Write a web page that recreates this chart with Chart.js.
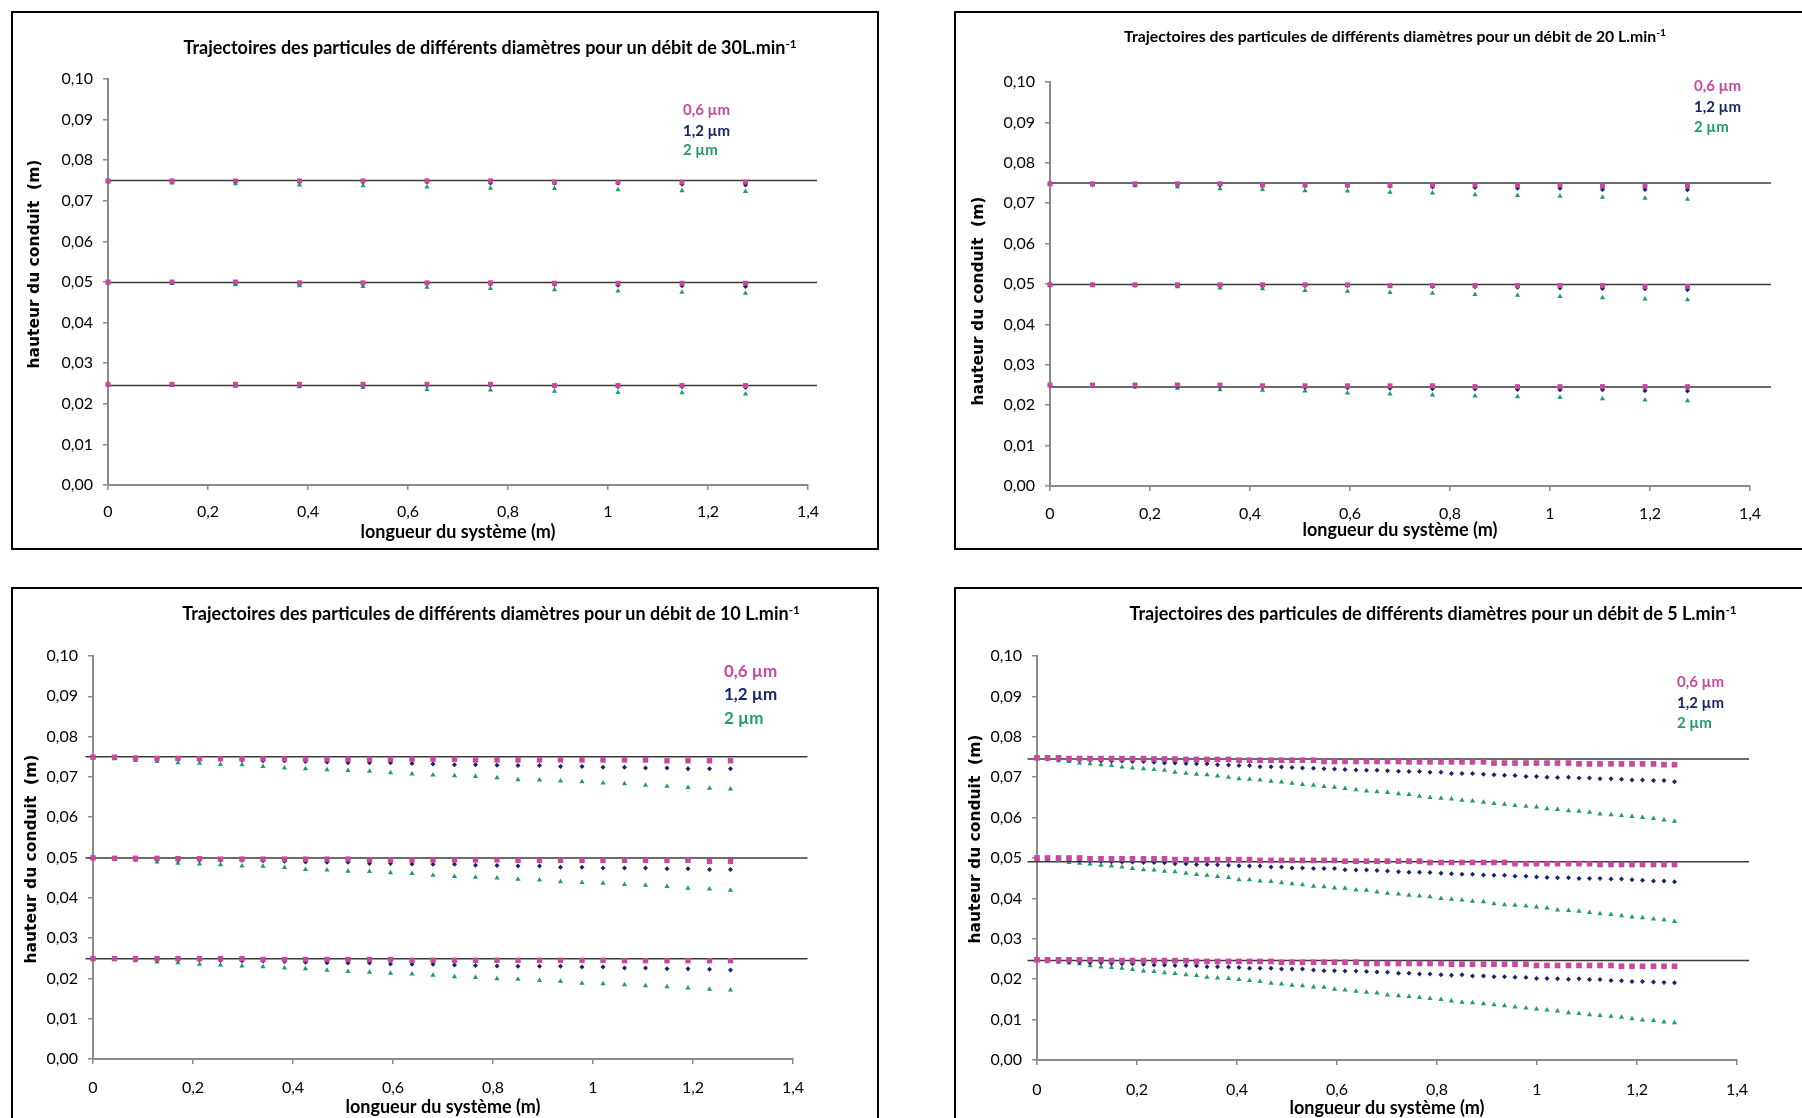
<!DOCTYPE html>
<html lang="fr">
<head>
<meta charset="utf-8">
<title>Trajectoires des particules</title>
<script src="https://cdn.jsdelivr.net/npm/chart.js@4.4.1/dist/chart.umd.min.js"></script>
<style>
  html, body { margin: 0; padding: 0; }
  body { width: 1802px; height: 1118px; overflow: hidden; background: #fff; position: relative; font-family: Lato, "Open Sans", sans-serif; }
  .cadre { position: absolute; width: 868px; height: 539px; border: 2px solid #000; box-sizing: border-box; }
  .cadre canvas { position: absolute; left: 0; top: 0; }
  .titre { position: absolute; font-weight: bold; white-space: nowrap; transform: translate(-50%, -50%); color: #000; }
  .titre sup { font-size: 0.65em; vertical-align: 0.55em; line-height: 0; }
  .axeY { position: absolute; font-family: "DejaVu Sans", sans-serif; font-weight: bold; font-size: 15.5px; white-space: pre;
          transform: translate(-50%, -50%) rotate(-90deg); color: #000; }
  .leg { position: absolute; font-weight: bold; white-space: nowrap; transform: translateY(-50%); line-height: 1; }
  .c06 { color: #c8479f; }
  .c12 { color: #1b2368; }
  .c2 { color: #1e9c6b; }
</style>
</head>
<body>
<div class="cadre" style="left:11px;top:11px"><canvas id="g30" width="864" height="535"></canvas></div>
<div class="cadre" style="left:954px;top:11px"><canvas id="g20" width="864" height="535"></canvas></div>
<div class="cadre" style="left:11px;top:587px"><canvas id="g10" width="864" height="535"></canvas></div>
<div class="cadre" style="left:954px;top:587px"><canvas id="g5" width="864" height="535"></canvas></div>

<div class="titre" style="left:490px;top:47px;font-size:18px">Trajectoires des particules de différents diamètres pour un débit de 30L.min<sup>-1</sup></div>
<div class="titre" style="left:1395px;top:35px;font-size:15.8px">Trajectoires des particules de différents diamètres pour un débit de 20 L.min<sup>-1</sup></div>
<div class="titre" style="left:491px;top:613px;font-size:18px">Trajectoires des particules de différents diamètres pour un débit de 10 L.min<sup>-1</sup></div>
<div class="titre" style="left:1433px;top:613px;font-size:18px">Trajectoires des particules de différents diamètres pour un débit de 5 L.min<sup>-1</sup></div>

<div class="axeY" style="left:34px;top:264px">hauteur du conduit  (m)</div>
<div class="axeY" style="left:978px;top:301px">hauteur du conduit  (m)</div>
<div class="axeY" style="left:31px;top:859px">hauteur du conduit  (m)</div>
<div class="axeY" style="left:975px;top:839px">hauteur du conduit  (m)</div>

<div class="leg c06" style="left:683px;top:109px;font-size:15px">0,6 µm</div>
<div class="leg c12" style="left:683px;top:130px;font-size:15px">1,2 µm</div>
<div class="leg c2" style="left:683px;top:149px;font-size:15px">2 µm</div>

<div class="leg c06" style="left:1694px;top:85px;font-size:15px">0,6 µm</div>
<div class="leg c12" style="left:1694px;top:106px;font-size:15px">1,2 µm</div>
<div class="leg c2" style="left:1694px;top:126px;font-size:15px">2 µm</div>

<div class="leg c06" style="left:724px;top:670px;font-size:17px">0,6 µm</div>
<div class="leg c12" style="left:724px;top:693px;font-size:17px">1,2 µm</div>
<div class="leg c2" style="left:724px;top:717px;font-size:17px">2 µm</div>

<div class="leg c06" style="left:1677px;top:681px;font-size:15px">0,6 µm</div>
<div class="leg c12" style="left:1677px;top:702px;font-size:15px">1,2 µm</div>
<div class="leg c2" style="left:1677px;top:722px;font-size:15px">2 µm</div>

<script>
// ---- débit 30 L/min ----
const x30 = [0, 0.128, 0.255, 0.383, 0.51, 0.638, 0.765, 0.893, 1.02, 1.148, 1.275];
const d30_06 = [
    [0.0749, 0.0749, 0.0749, 0.0749, 0.0749, 0.0749, 0.0749, 0.0746, 0.0746, 0.0746, 0.0746],
    [0.0500, 0.0500, 0.0500, 0.0498, 0.0498, 0.0498, 0.0498, 0.0497, 0.0497, 0.0497, 0.0497],
    [0.0248, 0.0248, 0.0248, 0.0248, 0.0248, 0.0248, 0.0248, 0.0245, 0.0245, 0.0245, 0.0245]
];
const d30_12 = [
    [0.0748, 0.0748, 0.0748, 0.0747, 0.0747, 0.0746, 0.0744, 0.0743, 0.0743, 0.0741, 0.0739],
    [0.0498, 0.0498, 0.0498, 0.0497, 0.0496, 0.0496, 0.0495, 0.0494, 0.0492, 0.0491, 0.0489],
    [0.0247, 0.0247, 0.0247, 0.0246, 0.0246, 0.0245, 0.0245, 0.0243, 0.0242, 0.0242, 0.0240]
];
const d30_2 = [
    [0.0747, 0.0744, 0.0742, 0.0739, 0.0737, 0.0734, 0.0731, 0.0730, 0.0727, 0.0725, 0.0723],
    [0.0498, 0.0496, 0.0493, 0.0491, 0.0489, 0.0487, 0.0484, 0.0481, 0.0478, 0.0475, 0.0472],
    [0.0247, 0.0245, 0.0243, 0.0242, 0.0240, 0.0235, 0.0234, 0.0231, 0.0228, 0.0227, 0.0224]
];
const conduits30 = [0.075, 0.0499, 0.0245];
const bornes30 = [0, 1.418];

// ---- débit 20 L/min ----
const x20 = [0, 0.085, 0.17, 0.255, 0.34, 0.425, 0.51, 0.595, 0.68, 0.765, 0.85, 0.935, 1.02, 1.105, 1.19, 1.275];
const d20_06 = [
    [0.0748, 0.0748, 0.0748, 0.0748, 0.0748, 0.0745, 0.0745, 0.0745, 0.0745, 0.0745, 0.0745, 0.0745, 0.0745, 0.0743, 0.0743, 0.0743],
    [0.0498, 0.0498, 0.0498, 0.0498, 0.0498, 0.0498, 0.0498, 0.0498, 0.0496, 0.0496, 0.0496, 0.0496, 0.0496, 0.0496, 0.0494, 0.0494],
    [0.0250, 0.0250, 0.0250, 0.0250, 0.0250, 0.0248, 0.0248, 0.0248, 0.0248, 0.0248, 0.0246, 0.0246, 0.0246, 0.0246, 0.0246, 0.0246]
];
const d20_12 = [
    [0.0748, 0.0747, 0.0746, 0.0746, 0.0745, 0.0744, 0.0743, 0.0743, 0.0742, 0.0740, 0.0739, 0.0737, 0.0737, 0.0734, 0.0734, 0.0733],
    [0.0498, 0.0498, 0.0497, 0.0497, 0.0497, 0.0496, 0.0496, 0.0496, 0.0495, 0.0494, 0.0493, 0.0492, 0.0490, 0.0489, 0.0488, 0.0486],
    [0.0250, 0.0248, 0.0247, 0.0246, 0.0246, 0.0245, 0.0244, 0.0243, 0.0242, 0.0241, 0.0240, 0.0239, 0.0238, 0.0238, 0.0236, 0.0235]
];
const d20_2 = [
    [0.0748, 0.0745, 0.0743, 0.0740, 0.0736, 0.0734, 0.0731, 0.0730, 0.0727, 0.0725, 0.0721, 0.0719, 0.0717, 0.0715, 0.0712, 0.0710],
    [0.0498, 0.0497, 0.0496, 0.0493, 0.0490, 0.0488, 0.0484, 0.0482, 0.0479, 0.0477, 0.0474, 0.0472, 0.0469, 0.0466, 0.0463, 0.0461],
    [0.0250, 0.0247, 0.0245, 0.0242, 0.0238, 0.0237, 0.0235, 0.0230, 0.0228, 0.0225, 0.0223, 0.0221, 0.0219, 0.0216, 0.0213, 0.0211]
];
const conduits20 = [0.075, 0.0499, 0.0245];
const bornes20 = [0, 1.442];

// ---- débit 10 L/min ----
const x10 = [0, 0.043, 0.085, 0.128, 0.17, 0.213, 0.255, 0.298, 0.34, 0.383, 0.425, 0.468, 0.51, 0.553, 0.595, 0.638,
    0.68, 0.723, 0.765, 0.808, 0.85, 0.893, 0.935, 0.978, 1.02, 1.063, 1.105, 1.148, 1.19, 1.233, 1.275];
const d10_06 = [
    [0.0749, 0.0749, 0.0747, 0.0746, 0.0746, 0.0745, 0.0745, 0.0745, 0.0745, 0.0745, 0.0744, 0.0744, 0.0744, 0.0744, 0.0744, 0.0744,
     0.0744, 0.0744, 0.0742, 0.0742, 0.0742, 0.0742, 0.0742, 0.0742, 0.0742, 0.0742, 0.0742, 0.0740, 0.0740, 0.0740, 0.0740],
    [0.0499, 0.0498, 0.0498, 0.0498, 0.0497, 0.0497, 0.0496, 0.0496, 0.0496, 0.0496, 0.0496, 0.0496, 0.0496, 0.0494, 0.0494, 0.0494,
     0.0494, 0.0494, 0.0494, 0.0494, 0.0493, 0.0493, 0.0493, 0.0493, 0.0493, 0.0493, 0.0493, 0.0493, 0.0493, 0.0490, 0.0490],
    [0.0249, 0.0249, 0.0249, 0.0249, 0.0249, 0.0249, 0.0249, 0.0249, 0.0247, 0.0247, 0.0247, 0.0247, 0.0247, 0.0247, 0.0247, 0.0245,
     0.0245, 0.0245, 0.0245, 0.0245, 0.0245, 0.0245, 0.0245, 0.0245, 0.0245, 0.0244, 0.0244, 0.0244, 0.0244, 0.0244, 0.0244]
];
const d10_12 = [
    [0.0749, 0.0748, 0.0747, 0.0746, 0.0745, 0.0744, 0.0744, 0.0742, 0.0740, 0.0740, 0.0738, 0.0737, 0.0735, 0.0735, 0.0735, 0.0733,
     0.0732, 0.0730, 0.0730, 0.0729, 0.0728, 0.0728, 0.0726, 0.0726, 0.0724, 0.0724, 0.0722, 0.0722, 0.0720, 0.0720, 0.0720],
    [0.0498, 0.0497, 0.0496, 0.0495, 0.0494, 0.0494, 0.0493, 0.0493, 0.0492, 0.0491, 0.0489, 0.0488, 0.0488, 0.0485, 0.0485, 0.0484,
     0.0483, 0.0483, 0.0481, 0.0480, 0.0479, 0.0479, 0.0476, 0.0476, 0.0474, 0.0474, 0.0474, 0.0472, 0.0472, 0.0470, 0.0470],
    [0.0249, 0.0249, 0.0248, 0.0247, 0.0247, 0.0246, 0.0245, 0.0244, 0.0243, 0.0242, 0.0240, 0.0239, 0.0238, 0.0238, 0.0236, 0.0235,
     0.0235, 0.0233, 0.0232, 0.0231, 0.0230, 0.0230, 0.0230, 0.0228, 0.0228, 0.0226, 0.0226, 0.0224, 0.0224, 0.0223, 0.0221]
];
const d10_2 = [
    [0.0749, 0.0745, 0.0741, 0.0738, 0.0735, 0.0734, 0.0731, 0.0730, 0.0726, 0.0722, 0.0720, 0.0718, 0.0716, 0.0714, 0.0710, 0.0707,
     0.0705, 0.0703, 0.0701, 0.0698, 0.0693, 0.0692, 0.0690, 0.0688, 0.0685, 0.0683, 0.0679, 0.0677, 0.0674, 0.0672, 0.0670],
    [0.0498, 0.0495, 0.0493, 0.0489, 0.0486, 0.0484, 0.0482, 0.0479, 0.0478, 0.0475, 0.0470, 0.0469, 0.0466, 0.0465, 0.0462, 0.0460,
     0.0456, 0.0453, 0.0451, 0.0449, 0.0446, 0.0444, 0.0440, 0.0438, 0.0436, 0.0433, 0.0431, 0.0428, 0.0424, 0.0422, 0.0419],
    [0.0249, 0.0247, 0.0244, 0.0241, 0.0239, 0.0235, 0.0233, 0.0231, 0.0229, 0.0226, 0.0224, 0.0220, 0.0217, 0.0215, 0.0213, 0.0211,
     0.0208, 0.0204, 0.0202, 0.0199, 0.0198, 0.0195, 0.0193, 0.0188, 0.0187, 0.0184, 0.0182, 0.0179, 0.0176, 0.0173, 0.0171]
];
const conduits10 = [0.075, 0.0499, 0.0249];
const bornes10 = [-0.015, 1.429];

// ---- débit 5 L/min ----
const x5 = [0, 0.021, 0.043, 0.064, 0.085, 0.106, 0.128, 0.149, 0.17, 0.191, 0.213, 0.234, 0.255, 0.276, 0.298, 0.319,
    0.34, 0.361, 0.383, 0.404, 0.425, 0.446, 0.468, 0.489, 0.51, 0.531, 0.553, 0.574, 0.595, 0.616, 0.638, 0.659,
    0.68, 0.701, 0.723, 0.744, 0.765, 0.786, 0.808, 0.829, 0.85, 0.871, 0.893, 0.914, 0.935, 0.956, 0.978, 0.999,
    1.02, 1.041, 1.063, 1.084, 1.105, 1.126, 1.148, 1.169, 1.19, 1.211, 1.233, 1.254, 1.275];
const d5_06 = [
    [0.0748, 0.0748, 0.0748, 0.0746, 0.0746, 0.0746, 0.0746, 0.0746, 0.0746, 0.0746, 0.0746, 0.0745, 0.0745, 0.0745, 0.0744, 0.0744,
     0.0744, 0.0744, 0.0744, 0.0742, 0.0742, 0.0742, 0.0742, 0.0742, 0.0742, 0.0742, 0.0742, 0.0739, 0.0739, 0.0739, 0.0739, 0.0739,
     0.0739, 0.0739, 0.0739, 0.0738, 0.0738, 0.0738, 0.0738, 0.0738, 0.0738, 0.0738, 0.0738, 0.0735, 0.0735, 0.0735, 0.0735, 0.0735,
     0.0735, 0.0735, 0.0735, 0.0733, 0.0733, 0.0733, 0.0733, 0.0733, 0.0733, 0.0733, 0.0733, 0.0731, 0.0731],
    [0.0500, 0.0500, 0.0500, 0.0500, 0.0500, 0.0498, 0.0498, 0.0498, 0.0498, 0.0498, 0.0498, 0.0498, 0.0498, 0.0496, 0.0496, 0.0496,
     0.0496, 0.0496, 0.0496, 0.0496, 0.0496, 0.0494, 0.0494, 0.0494, 0.0494, 0.0494, 0.0494, 0.0494, 0.0494, 0.0492, 0.0492, 0.0492,
     0.0492, 0.0492, 0.0492, 0.0492, 0.0492, 0.0489, 0.0489, 0.0489, 0.0489, 0.0489, 0.0489, 0.0489, 0.0489, 0.0486, 0.0486, 0.0486,
     0.0486, 0.0486, 0.0486, 0.0486, 0.0486, 0.0484, 0.0484, 0.0484, 0.0484, 0.0484, 0.0484, 0.0484, 0.0484],
    [0.0248, 0.0248, 0.0248, 0.0248, 0.0248, 0.0248, 0.0248, 0.0246, 0.0246, 0.0246, 0.0246, 0.0246, 0.0246, 0.0246, 0.0246, 0.0244,
     0.0244, 0.0244, 0.0244, 0.0244, 0.0244, 0.0244, 0.0244, 0.0242, 0.0242, 0.0242, 0.0242, 0.0242, 0.0242, 0.0242, 0.0242, 0.0239,
     0.0239, 0.0239, 0.0239, 0.0239, 0.0239, 0.0239, 0.0239, 0.0237, 0.0237, 0.0237, 0.0237, 0.0237, 0.0237, 0.0237, 0.0237, 0.0234,
     0.0234, 0.0234, 0.0234, 0.0234, 0.0234, 0.0234, 0.0234, 0.0232, 0.0232, 0.0232, 0.0232, 0.0232, 0.0232]
];
const d5_12 = [
    [0.0747, 0.0745, 0.0745, 0.0743, 0.0743, 0.0743, 0.0741, 0.0740, 0.0740, 0.0739, 0.0739, 0.0737, 0.0735, 0.0735, 0.0734, 0.0733,
     0.0733, 0.0731, 0.0730, 0.0729, 0.0729, 0.0726, 0.0726, 0.0725, 0.0724, 0.0723, 0.0722, 0.0721, 0.0720, 0.0719, 0.0718, 0.0717,
     0.0717, 0.0716, 0.0715, 0.0714, 0.0714, 0.0712, 0.0712, 0.0709, 0.0709, 0.0709, 0.0707, 0.0706, 0.0705, 0.0704, 0.0702, 0.0702,
     0.0700, 0.0699, 0.0700, 0.0698, 0.0698, 0.0696, 0.0696, 0.0695, 0.0693, 0.0693, 0.0692, 0.0692, 0.0689],
    [0.0498, 0.0498, 0.0498, 0.0495, 0.0494, 0.0493, 0.0492, 0.0491, 0.0490, 0.0490, 0.0489, 0.0489, 0.0488, 0.0486, 0.0486, 0.0484,
     0.0484, 0.0483, 0.0482, 0.0481, 0.0480, 0.0480, 0.0478, 0.0478, 0.0475, 0.0475, 0.0474, 0.0474, 0.0474, 0.0471, 0.0470, 0.0470,
     0.0469, 0.0468, 0.0466, 0.0465, 0.0465, 0.0464, 0.0462, 0.0461, 0.0460, 0.0460, 0.0458, 0.0457, 0.0457, 0.0455, 0.0455, 0.0453,
     0.0452, 0.0451, 0.0451, 0.0449, 0.0449, 0.0449, 0.0448, 0.0448, 0.0446, 0.0445, 0.0443, 0.0443, 0.0441],
    [0.0248, 0.0246, 0.0245, 0.0243, 0.0242, 0.0241, 0.0241, 0.0239, 0.0238, 0.0238, 0.0237, 0.0235, 0.0235, 0.0234, 0.0234, 0.0233,
     0.0231, 0.0231, 0.0230, 0.0229, 0.0227, 0.0227, 0.0227, 0.0225, 0.0225, 0.0225, 0.0223, 0.0221, 0.0221, 0.0220, 0.0220, 0.0219,
     0.0218, 0.0217, 0.0215, 0.0215, 0.0213, 0.0213, 0.0211, 0.0210, 0.0211, 0.0208, 0.0208, 0.0206, 0.0206, 0.0205, 0.0204, 0.0202,
     0.0202, 0.0201, 0.0200, 0.0201, 0.0199, 0.0199, 0.0197, 0.0196, 0.0194, 0.0194, 0.0193, 0.0192, 0.0191]
];
const d5_2 = [
    [0.0747, 0.0745, 0.0741, 0.0739, 0.0735, 0.0733, 0.0731, 0.0729, 0.0725, 0.0723, 0.0721, 0.0719, 0.0717, 0.0712, 0.0710, 0.0707,
     0.0706, 0.0703, 0.0700, 0.0696, 0.0695, 0.0693, 0.0690, 0.0688, 0.0685, 0.0682, 0.0680, 0.0677, 0.0675, 0.0672, 0.0669, 0.0666,
     0.0664, 0.0662, 0.0659, 0.0657, 0.0653, 0.0650, 0.0648, 0.0646, 0.0643, 0.0641, 0.0638, 0.0635, 0.0633, 0.0630, 0.0628, 0.0626,
     0.0622, 0.0620, 0.0617, 0.0616, 0.0613, 0.0609, 0.0607, 0.0605, 0.0603, 0.0600, 0.0598, 0.0594, 0.0591],
    [0.0498, 0.0496, 0.0493, 0.0489, 0.0487, 0.0485, 0.0482, 0.0480, 0.0478, 0.0474, 0.0471, 0.0470, 0.0467, 0.0466, 0.0462, 0.0459,
     0.0457, 0.0454, 0.0452, 0.0446, 0.0446, 0.0443, 0.0442, 0.0439, 0.0436, 0.0434, 0.0430, 0.0429, 0.0426, 0.0425, 0.0421, 0.0420,
     0.0416, 0.0413, 0.0411, 0.0408, 0.0406, 0.0404, 0.0400, 0.0398, 0.0396, 0.0393, 0.0392, 0.0387, 0.0384, 0.0383, 0.0381, 0.0379,
     0.0376, 0.0371, 0.0370, 0.0368, 0.0365, 0.0362, 0.0360, 0.0357, 0.0354, 0.0352, 0.0349, 0.0347, 0.0343],
    [0.0248, 0.0243, 0.0242, 0.0240, 0.0238, 0.0233, 0.0230, 0.0229, 0.0227, 0.0224, 0.0220, 0.0219, 0.0216, 0.0214, 0.0211, 0.0209,
     0.0205, 0.0203, 0.0202, 0.0199, 0.0197, 0.0194, 0.0190, 0.0188, 0.0185, 0.0184, 0.0181, 0.0180, 0.0175, 0.0173, 0.0170, 0.0168,
     0.0166, 0.0161, 0.0159, 0.0157, 0.0155, 0.0152, 0.0150, 0.0146, 0.0143, 0.0142, 0.0139, 0.0137, 0.0134, 0.0131, 0.0129, 0.0126,
     0.0124, 0.0121, 0.0117, 0.0115, 0.0112, 0.0110, 0.0108, 0.0106, 0.0102, 0.0099, 0.0098, 0.0094, 0.0092]
];
const conduits5 = [0.0745, 0.0491, 0.0246];
const bornes5 = [-0.019, 1.424];

// couleurs et marqueurs des trois diamètres (le plus petit dessiné au-dessus)
const COUL_06 = "#c8479f";
const COUL_12 = "#1b2368";
const COUL_2 = "#1e9c6b";
const GRIS_AXE = "#8a8a8a";

function serie(xs, ys) {
    return ys.map((y, i) => ({ x: xs[i], y: y }));
}

function trajectoires(xs, groupes, couleur, forme, rayon, ordre) {
    return groupes.map((ys) => ({
        data: serie(xs, ys),
        showLine: false,
        pointStyle: forme,
        pointRadius: rayon,
        pointBackgroundColor: couleur,
        pointBorderColor: couleur,
        pointBorderWidth: 0,
        clip: false,
        order: ordre,
    }));
}

function conduits(hauteurs, bornes) {
    return hauteurs.map((h) => ({
        data: [{ x: bornes[0], y: h }, { x: bornes[1], y: h }],
        showLine: true,
        pointRadius: 0,
        borderColor: "#3a3a3a",
        borderWidth: 1.5,
        clip: false,
        order: 10,
    }));
}

function tracer(id, xs, d06, d12, d2, hauteurs, bornes, mise) {
    const ctx = document.getElementById(id);
    const police = { family: "Lato", size: 16 };

    new Chart(ctx, {
        type: "scatter",
        data: {
            datasets: [
                ...conduits(hauteurs, bornes),
                ...trajectoires(xs, d2, COUL_2, "triangle", mise.tri, 3),
                ...trajectoires(xs, d12, COUL_12, "rectRot", mise.los, 2),
                ...trajectoires(xs, d06, COUL_06, "rect", mise.car, 1),
            ],
        },
        options: {
            responsive: false,
            animation: false,
            events: [],
            layout: { padding: { left: 0, top: mise.haut, right: mise.droite, bottom: 0 } },
            plugins: {
                legend: { display: false },
                tooltip: { enabled: false },
            },
            scales: {
                x: {
                    type: "linear",
                    min: 0,
                    max: 1.4,
                    ticks: {
                        stepSize: 0.2,
                        maxRotation: 0,
                        autoSkip: false,
                        padding: mise.padX,
                        color: "#000",
                        font: police,
                        callback: (v) => String(Math.round(v * 10) / 10).replace(".", ","),
                    },
                    grid: { drawOnChartArea: false, drawTicks: true, tickLength: 5, color: GRIS_AXE, lineWidth: 1.5 },
                    border: { display: true, color: GRIS_AXE, width: 2 },
                    title: {
                        display: true,
                        text: "longueur du système (m)",
                        color: "#000",
                        font: { family: "Lato", size: 18, weight: "bold" },
                        padding: { top: 0, bottom: mise.titreX },
                    },
                    afterFit: (s) => { s.height = mise.hautX; },
                },
                y: {
                    type: "linear",
                    min: 0,
                    max: 0.1,
                    ticks: {
                        stepSize: 0.01,
                        padding: 10,
                        color: "#000",
                        font: police,
                        callback: (v) => v.toFixed(2).replace(".", ","),
                    },
                    grid: { drawOnChartArea: false, drawTicks: true, tickLength: 5, color: GRIS_AXE, lineWidth: 1.5 },
                    border: { display: true, color: GRIS_AXE, width: 2 },
                    title: { display: false },
                    afterFit: (s) => { s.width = mise.largeY; },
                },
            },
        },
    });
}

tracer("g30", x30, d30_06, d30_12, d30_2, conduits30, bornes30,
    { haut: 66, droite: 69, largeY: 95, hautX: 63, padX: 12, titreX: 5, car: 3.5, los: 2.5, tri: 3 });
tracer("g20", x20, d20_06, d20_12, d20_2, conduits20, bornes20,
    { haut: 69, droite: 70, largeY: 94, hautX: 62, padX: 13, titreX: 7, car: 3.5, los: 2.5, tri: 3 });
tracer("g10", x10, d10_06, d10_12, d10_2, conduits10, bornes10,
    { haut: 67, droite: 84, largeY: 80, hautX: 65, padX: 14, titreX: 6, car: 3.8, los: 2.5, tri: 3 });
tracer("g5", x5, d5_06, d5_12, d5_2, conduits5, bornes5,
    { haut: 67, droite: 83, largeY: 81, hautX: 64, padX: 15, titreX: 5, car: 4, los: 2.5, tri: 3 });
</script>
</body>
</html>
